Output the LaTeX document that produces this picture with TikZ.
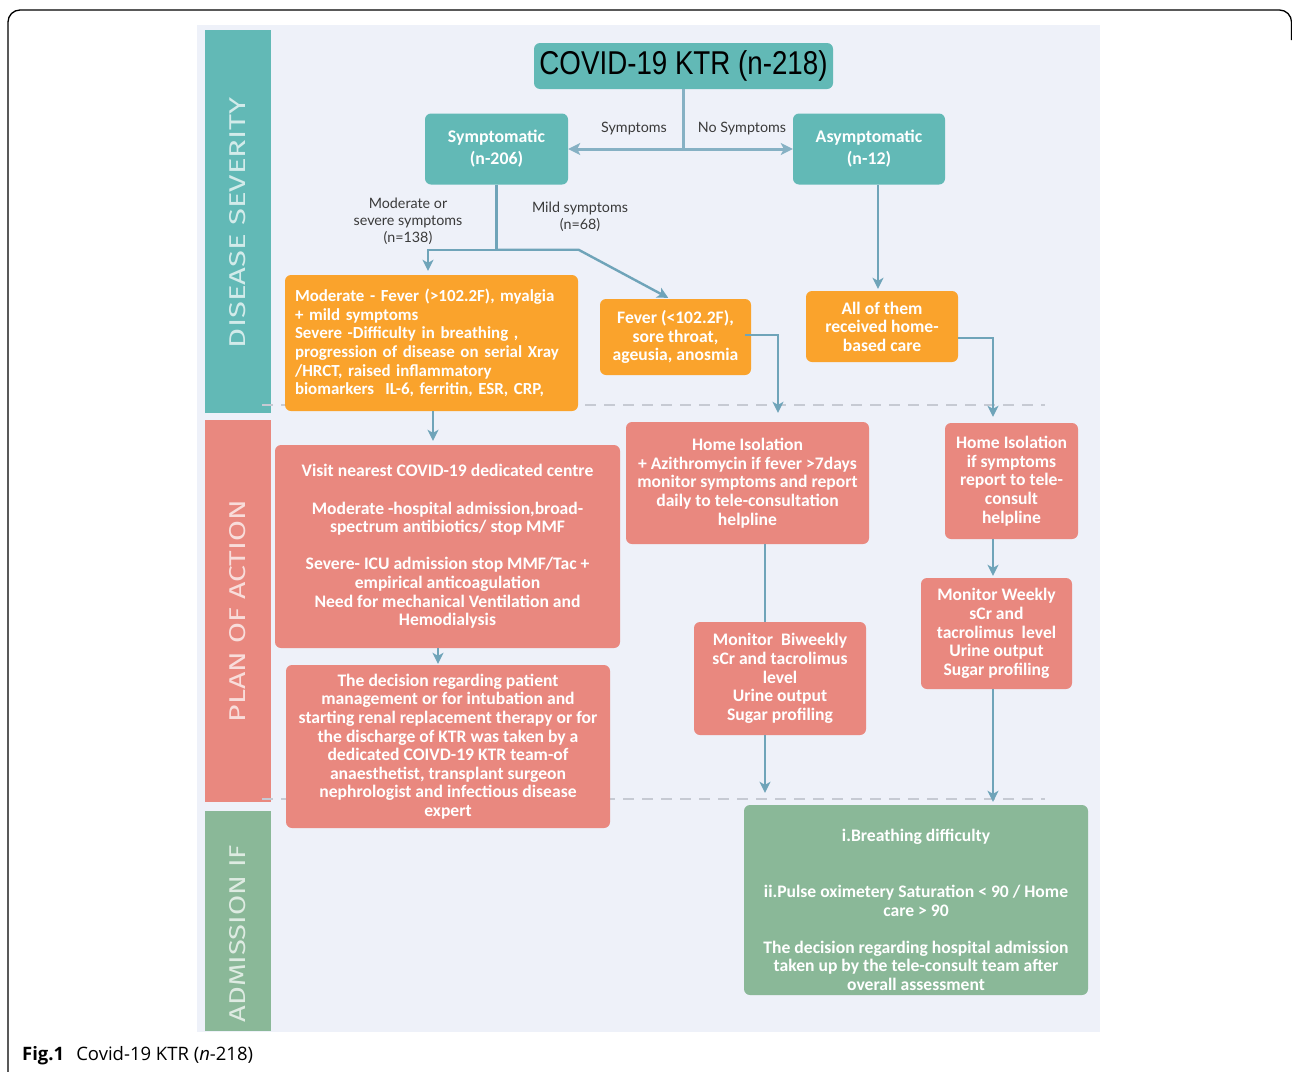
\documentclass[tikz,border=0pt]{standalone}
\usepackage{fontspec}
\setmainfont{Lato}
\newfontfamily\boxfont{Carlito}
\newfontfamily\titlefont{Liberation Sans}
\newfontfamily\capfont{Open Sans}
\newfontfamily\sidefont{Fira Sans}
\usetikzlibrary{arrows.meta,calc}
\definecolor{cTeal}{HTML}{62B9B6}
\definecolor{cOrg}{HTML}{FAA32C}
\definecolor{cRed}{HTML}{E9887F}
\definecolor{cGrn}{HTML}{8AB898}
\definecolor{cArr}{HTML}{6FA4B9}
\definecolor{cArrL}{HTML}{86B1C4}
\definecolor{cBg}{HTML}{EEF1F9}
\definecolor{cLab}{HTML}{3A3A3A}
\definecolor{cDash}{HTML}{C6CAD3}
\tikzset{
  bx/.style={rounded corners=6pt, inner sep=0pt, text=white, align=center,
    font=\boxfont\bfseries\fontsize{17.6}{18.6}\selectfont},
  lab/.style={text=cLab, align=center, inner sep=0pt, font=\fontsize{14.3}{16.8}\selectfont},
  arr/.style={draw=cArr, line width=2.4pt, -{Stealth[length=11pt,width=11pt,inset=3pt]}},
  plain/.style={draw=cArr, line width=2.4pt},
  dashline/.style={draw=cDash, line width=2pt, dash pattern=on 11pt off 8pt},
  sidetxt/.style={rotate=90, inner sep=0pt, text=white, opacity=0.72}
}
\begin{document}
\begin{tikzpicture}[x=1pt,y=-1pt]
\useasboundingbox (0,0) rectangle (1292,1071);
% outer frame
\draw[line width=1.3pt, rounded corners=12pt] (8,1075) -- (8,10) -- (1291.5,10) -- (1291.5,40);
% background panel
\fill[cBg] (197,25) rectangle (1100,1032);
% sidebars
\fill[cTeal] (205,30) rectangle (271,413);
\fill[cRed] (205,420) rectangle (271,802);
\fill[cGrn] (205,811) rectangle (271,1031);
\node[sidetxt] (s1) at (238,222.5) {\resizebox{251pt}{16pt}{\sidefont DISEASE SEVERITY}};
\node[sidetxt] (s2) at (238,611) {\resizebox{222pt}{16pt}{\sidefont PLAN OF ACTION}};
\node[sidetxt] (s3) at (238,933.5) {\resizebox{177pt}{16pt}{\sidefont ADMISSION IF}};
% dashed separators
\draw[dashline] (262,405) -- (1045,405);
\draw[dashline] (262,799) -- (1045,799);

% nodes
\node[bx, fill=cTeal, text=black, minimum width=299pt, minimum height=46pt] (title) at (683.5,66)
  {\scalebox{0.84}[1]{\titlefont\mdseries\fontsize{33}{33}\selectfont COVID-19 KTR (n-218)}};
\node[bx, fill=cTeal, minimum width=143pt, minimum height=71pt, font=\boxfont\bfseries\fontsize{17.8}{22}\selectfont] (sym) at (496.5,149) {Symptomatic\\(n-206)};
\node[bx, fill=cTeal, minimum width=152pt, minimum height=71pt, font=\boxfont\bfseries\fontsize{17.8}{22}\selectfont] (asym) at (869,149) {Asymptomatic\\(n-12)};

\node[bx, fill=cOrg, minimum width=293pt, minimum height=136pt, text width=273pt, inner xsep=10pt, align=left, font=\boxfont\bfseries\fontsize{16.9}{18.6}\selectfont] (mod) at (431.5,343)
  {Moderate - Fever (>102.2F), myalgia\\+ mild symptoms\\Severe -Difficulty in breathing ,\\progression of disease on serial Xray\\/HRCT, raised inflammatory\\biomarkers\ \ IL-6, ferritin, ESR, CRP,};
\node[bx, fill=cOrg, minimum width=151pt, minimum height=76pt] (fever) at (675.5,337)
  {Fever (<102.2F),\\sore throat,\\ageusia, anosmia};
\node[bx, fill=cOrg, minimum width=152pt, minimum height=71pt] (allc) at (882,326.5)
  {All of them\\received home-\\based care};

\node[bx, fill=cRed, minimum width=345pt, minimum height=203pt] (red1) at (447.5,546.5)
  {Visit nearest COVID-19 dedicated centre\\[18.6pt]Moderate -hospital admission,broad-\\spectrum antibiotics/ stop MMF\\[18.6pt]Severe- ICU admission stop MMF/Tac +\\empirical anticoagulation\\Need for mechanical Ventilation and\\Hemodialysis};
\node[bx, fill=cRed, minimum width=324pt, minimum height=163pt] (red2) at (448,746.5)
  {The decision regarding patient\\management or for intubation and\\starting renal replacement therapy or for\\the discharge of KTR was taken by a\\dedicated COIVD-19 KTR team-of\\anaesthetist, transplant surgeon\\nephrologist and infectious disease\\expert};
\node[bx, fill=cRed, minimum width=243pt, minimum height=122pt] (hi1) at (747.5,483)
  {Home Isolation\\+ Azithromycin if fever >7days\\monitor symptoms and report\\daily to tele-consultation\\helpline};
\node[bx, fill=cRed, minimum width=133pt, minimum height=116pt] (hi2) at (1011.5,481)
  {Home Isolation\\if symptoms\\report to tele-\\consult\\helpline};
\node[bx, fill=cRed, minimum width=172pt, minimum height=113pt] (mb) at (780,678.5)
  {Monitor\ \ Biweekly\\sCr and tacrolimus\\level\\Urine output\\Sugar profiling};
\node[bx, fill=cRed, minimum width=151pt, minimum height=111pt] (mw) at (996.5,633.5)
  {Monitor Weekly\\sCr and\\tacrolimus\ \ level\\Urine output\\Sugar profiling};
\node[bx, fill=cGrn, minimum width=344pt, minimum height=190pt] (adm) at (916,900) {};
\node[bx] (admtxt) at (916,910)
  {i.Breathing difficulty\\[37.2pt]ii.Pulse oximetery Saturation < 90 / Home\\care > 90\\[18.6pt]The decision regarding hospital admission\\taken up by the tele-consult team after\\overall assessment};

% labels
\node[lab] (l1) at (634,129) {Symptoms};
\node[lab] (l2) at (742,129) {No Symptoms};
\node[lab] (l3) at (408,221) {Moderate or\\severe symptoms\\(n=138)};
\node[lab] (l4) at (580,216.5) {Mild symptoms\\(n=68)};

% connectors
\coordinate (split) at (title.south |- sym.east);
\draw[plain, draw=cArrL, line width=3pt] (title.south) -- (split);
\draw[draw=cArrL, line width=3pt, {Stealth[length=12pt,width=12pt,inset=3pt]}-{Stealth[length=12pt,width=12pt,inset=3pt]}] (sym.east) -- (asym.west);
\coordinate (br) at ($(sym.south)+(0,65)$);
\draw[plain] (sym.south) -- (br);
\coordinate (modin) at ($(mod.north)+(-3.5,0)$);
\draw[arr, shorten >=4pt] (br) -| (modin);
\coordinate (fevin) at ($(fever.north)+(-5.5,0)$);
\draw[arr, shorten >=2pt] (br) -- ++(82,0) -- (fevin);
\coordinate (asout) at ($(asym.south)+(9,0)$);
\draw[arr, shorten >=2pt] (asout) -- (asout |- allc.north);
\coordinate (fevout) at ($(fever.east)+(-6,-2)$);
\coordinate (hi1in) at ($(hi1.north)+(30.5,0)$);
\draw[arr, shorten >=9pt] (fevout) -| (hi1in);
\coordinate (allout) at ($(allc.east)+(0,11.5)$);
\coordinate (hi2in) at ($(hi2.north)+(-18.5,0)$);
\draw[arr, shorten >=6pt] (allout) -| (hi2in);
\coordinate (modout) at ($(mod.south)+(1.5,0)$);
\draw[arr, shorten >=4pt] (modout) -- (modout |- red1.north);
\coordinate (r1out) at ($(red1.south)+(-9.5,0)$);
\draw[arr, shorten >=1pt] (r1out) -- (r1out |- red2.north);
\coordinate (hi1out) at ($(hi1.south)+(17.5,0)$);
\draw[plain] (hi1out) -- (hi1out |- mb.north);
\coordinate (mbout) at ($(mb.south)+(-15,0)$);
\draw[arr, shorten >=12pt] (mbout) -- (mbout |- adm.north);
\coordinate (hi2out) at ($(hi2.south)+(-18.5,0)$);
\draw[arr, shorten >=2pt] (hi2out) -- (hi2out |- mw.north);
\coordinate (mwout) at ($(mw.south)+(-3.5,0)$);
\draw[arr, shorten >=3pt] (mwout) -- (mwout |- adm.north);

% caption
\node[anchor=base west, inner sep=0pt, font=\capfont\fontsize{18.5}{18.5}\selectfont] (cap) at (22,1060)
  {\textbf{Fig.1}\hspace{12pt}Covid-19 KTR (\textit{n}-218)};
\end{tikzpicture}
\end{document}
